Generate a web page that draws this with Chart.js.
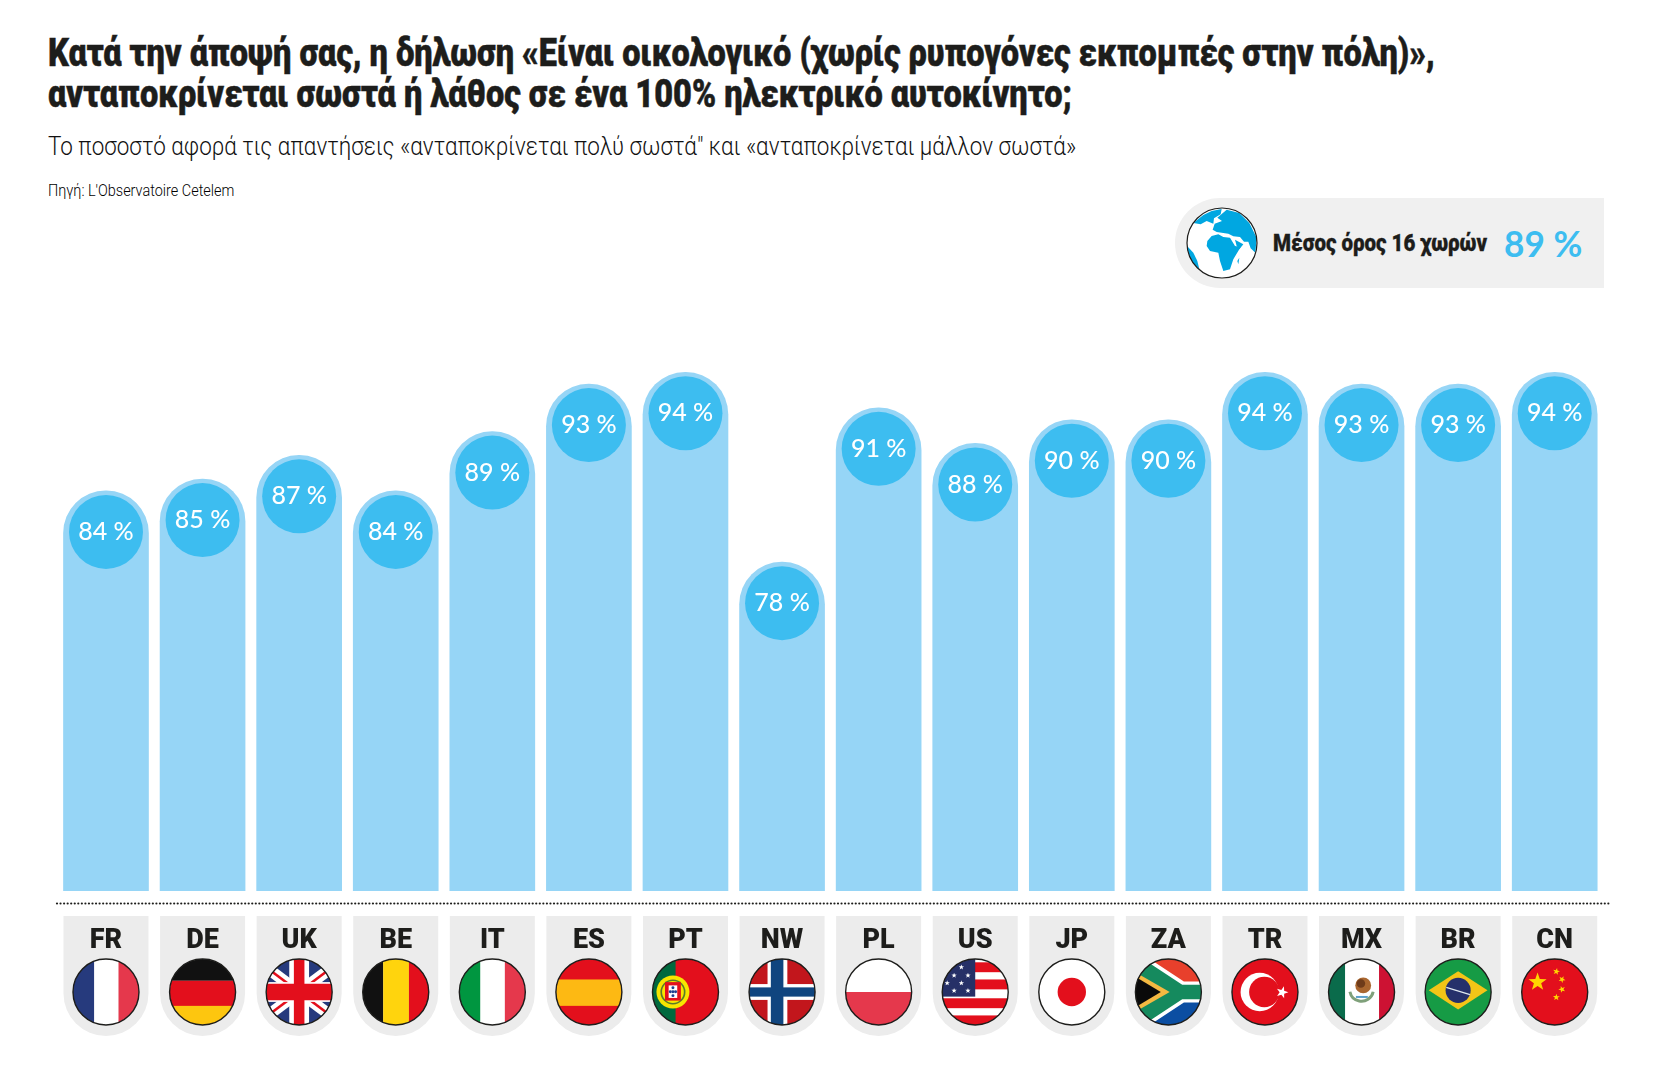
<!DOCTYPE html>
<html lang="el">
<head>
<meta charset="utf-8">
<script src="https://cdn.jsdelivr.net/npm/chart.js@4"></script>
<style>
  html, body { margin: 0; background: #fff; }
  body { position: relative; width: 1654px; height: 1082px; overflow: hidden; color: #1d1d1b; }
  #myChart { position: absolute; left: 0; top: 0; }
  .txt { position: absolute; left: 48px; margin: 0; white-space: nowrap; transform-origin: 0 0; font-family: Roboto, sans-serif; }
  #title { top: 33px; font-size: 38px; line-height: 41px; font-weight: 900; -webkit-text-stroke: .5px #1d1d1b; }
  #subtitle { top: 131px; font-size: 26px; font-weight: 300; color: #111; }
  #source { top: 181px; font-size: 16px; font-weight: 300; color: #000; }
  #avgBox { position: absolute; left: 1175px; top: 198px; width: 429px; height: 90px; background: #f0f0f0; border-radius: 45px 0 0 45px; }
  #avgLabel { position: absolute; left: 98px; top: 30px; font: 900 24px/30px Roboto, sans-serif; -webkit-text-stroke: .3px #1d1d1b; white-space: nowrap; transform-origin: 0 0; }
  #avgValue { position: absolute; left: 329px; top: 22px; font: 700 37px/46px Lato, sans-serif; color: #3dbdf0; white-space: nowrap; transform-origin: 0 0; }
  #globe { position: absolute; left: 10px; top: 8px; }
</style>
</head>
<body>
<h1 class="txt" id="title">Κατά την άποψή σας, η δήλωση «Είναι οικολογικό (χωρίς ρυπογόνες εκπομπές στην πόλη)»,<br>ανταποκρίνεται σωστά ή λάθος σε ένα 100% ηλεκτρικό αυτοκίνητο;</h1>
<p class="txt" id="subtitle">Το ποσοστό αφορά τις απαντήσεις «ανταποκρίνεται πολύ σωστά" και «ανταποκρίνεται μάλλον σωστά»</p>
<p class="txt" id="source">Πηγή: L'Observatoire Cetelem</p>
<canvas id="myChart" width="1654" height="1082"></canvas>
<div id="avgBox">
  <canvas id="globe" width="74" height="74"></canvas>
  <div id="avgLabel">Μέσος όρος 16 χωρών</div>
  <div id="avgValue">89 %</div>
</div>
<script>
let countries = ['FR', 'DE', 'UK', 'BE', 'IT', 'ES', 'PT', 'NW', 'PL', 'US', 'JP', 'ZA', 'TR', 'MX', 'BR', 'CN']
let percents = [84, 85, 87, 84, 89, 93, 94, 78, 91, 88, 90, 90, 94, 93, 93, 94]

let barColor = '#96d5f6'
let bubbleColor = '#3dbdf0'
let pillColor = '#ececec'

// the reference font is condensed, none is installed, so squeeze the text to the same width
function fitWidth(id, target) {
    let el = document.getElementById(id)
    el.style.transform = `scaleX(${target / el.offsetWidth})`
}
fitWidth('title', 1387)
fitWidth('subtitle', 1028)
fitWidth('source', 186)
fitWidth('avgLabel', 214)
fitWidth('avgValue', 78)

// ---- small helpers for the flags ----
function rect(c, col, x, y, w, h) {
    c.fillStyle = col
    c.fillRect(x, y, w, h)
}
function poly(c, col, pts) {
    c.fillStyle = col
    c.beginPath()
    pts.forEach((p, i) => i ? c.lineTo(p[0], p[1]) : c.moveTo(p[0], p[1]))
    c.closePath()
    c.fill()
}
function dot(c, col, x, y, r) {
    c.fillStyle = col
    c.beginPath()
    c.arc(x, y, r, 0, Math.PI * 2)
    c.fill()
}
function star(c, col, x, y, r, rot) {
    let pts = []
    for (let i = 0; i < 10; i++) {
        let a = (rot || 0) - Math.PI / 2 + i * Math.PI / 5
        let rr = i % 2 ? r * 0.4 : r
        pts.push([x + Math.cos(a) * rr, y + Math.sin(a) * rr])
    }
    poly(c, col, pts)
}
function band(c, col, w, x1, y1, x2, y2) {
    c.strokeStyle = col
    c.lineWidth = w
    c.beginPath()
    c.moveTo(x1, y1)
    c.lineTo(x2, y2)
    c.stroke()
}

// every flag is drawn in a -1..1 box, clipped to the circle afterwards
let flags = {
    FR(c) { rect(c, '#263a7d', -1, -1, .66, 2); rect(c, '#fff', -.36, -1, .74, 2); rect(c, '#e5384c', .38, -1, .62, 2) },
    DE(c) { rect(c, '#111', -1, -1, 2, .66); rect(c, '#e30f1c', -1, -.34, 2, .8); rect(c, '#fdc60f', -1, .42, 2, .6) },
    UK(c) {
        rect(c, '#263a7d', -1, -1, 2, 2)
        band(c, '#fff', .34, -1, -.75, 1, .75); band(c, '#fff', .34, -1, .75, 1, -.75)
        band(c, '#e30f1c', .08, -1, -.75, 1, .75); band(c, '#e30f1c', .08, -1, .75, 1, -.75)
        rect(c, '#fff', -.3, -1, .6, 2); rect(c, '#fff', -1, -.3, 2, .6)
        rect(c, '#e30f1c', -.16, -1, .32, 2); rect(c, '#e30f1c', -1, -.25, 2, .5)
    },
    BE(c) { rect(c, '#111', -1, -1, .62, 2); rect(c, '#ffd40d', -.38, -1, .78, 2); rect(c, '#e30f1c', .4, -1, .6, 2) },
    IT(c) { rect(c, '#009640', -1, -1, .64, 2); rect(c, '#fff', -.36, -1, .74, 2); rect(c, '#e5384c', .38, -1, .62, 2) },
    ES(c) { rect(c, '#e30f1c', -1, -1, 2, 2); rect(c, '#fdb913', -1, -.38, 2, .8) },
    PT(c) {
        rect(c, '#e30f1c', -1, -1, 2, 2); rect(c, '#00693e', -1, -1, .7, 2)
        dot(c, '#f7e500', -.38, 0, .5); dot(c, '#5a7a2a', -.38, 0, .38); dot(c, '#f7e500', -.38, 0, .33)
        rect(c, '#e30f1c', -.62, -.3, .48, .56); rect(c, '#fff', -.51, -.2, .26, .38)
        ;[[-.38, -.13], [-.46, -.01], [-.38, -.01], [-.3, -.01], [-.38, .11]].forEach(p => dot(c, '#1d3f8f', p[0], p[1], .045))
    },
    NW(c) {
        rect(c, '#c2161c', -1, -1, 2, 2)
        rect(c, '#fff', -.44, -1, .6, 2); rect(c, '#fff', -1, -.24, 2, .48)
        rect(c, '#10457f', -.34, -1, .38, 2); rect(c, '#10457f', -1, -.14, 2, .28)
    },
    PL(c) { rect(c, '#fff', -1, -1, 2, 1); rect(c, '#e5384c', -1, 0, 2, 1) },
    US(c) {
        rect(c, '#fff', -1, -1, 2, 2)
        for (let i = 0; i < 4; i++) rect(c, '#e30f1c', -1, -.9 + i * .52 + (i > 1 ? .05 : 0), 2, .3)
        rect(c, '#263067', -1, -1, 1, 1.14)
        ;[[-.42, -.75], [-.64, -.5], [-.22, -.5], [-.42, -.27], [-.85, -.27], [-.64, -.04], [-.22, -.04]].forEach(p => star(c, '#fff', p[0], p[1], .085))
    },
    JP(c) { rect(c, '#fff', -1, -1, 2, 2); dot(c, '#e30f1c', 0, 0, .43) },
    ZA(c) {
        rect(c, '#e8402c', -1, -1, 2, 1); rect(c, '#0b4ea2', -1, 0, 2, 1)
        poly(c, '#fff', [[-1, -1.05], [-.64, -1.05], [.47, -.32], [1, -.32], [1, .32], [.47, .32], [-.64, 1.05], [-1, 1.05]])
        poly(c, '#158a5e', [[-1, -1.05], [-.84, -1.05], [.42, -.22], [1, -.22], [1, .22], [.42, .22], [-.84, 1.05], [-1, 1.05]])
        poly(c, '#f4b942', [[-1, -.6], [.04, 0], [-1, .6]])
        poly(c, '#0a0a0a', [[-1, -.46], [-.23, 0], [-1, .46]])
    },
    TR(c) {
        rect(c, '#e30f1c', -1, -1, 2, 2)
        dot(c, '#fff', -.16, 0, .58); dot(c, '#e30f1c', -.02, 0, .46)
        star(c, '#fff', .52, .01, .19, .3)
    },
    MX(c) {
        rect(c, '#fff', -1, -1, 2, 2); rect(c, '#0a6b4b', -1, -1, .5, 2); rect(c, '#cd1233', .53, -1, .47, 2)
        dot(c, '#a9662f', .05, -.2, .24); dot(c, '#6e3b1a', -.02, -.26, .13)
        c.strokeStyle = '#7fa07a'; c.lineWidth = .09
        c.beginPath(); c.arc(0, -.08, .36, .2, Math.PI - .2); c.stroke()
        rect(c, '#5da0c9', -.17, .12, .36, .06)
    },
    BR(c) {
        rect(c, '#169b45', -1, -1, 2, 2)
        poly(c, '#f3c517', [[-.89, -.05], [0, -.63], [.89, -.05], [0, .53]])
        dot(c, '#25306b', 0, -.05, .38)
        band(c, '#dfe8f0', .04, -.36, -.14, .36, .08)
    },
    CN(c) {
        rect(c, '#e30f1c', -1, -1, 2, 2)
        star(c, '#ffd500', -.52, -.3, .29)
        ;[[.05, -.62, .2], [.22, -.38, .5], [.22, -.08, .9], [.05, .16, 1.3]].forEach(p => star(c, '#ffd500', p[0], p[1], .11, p[2]))
    }
}

function drawFlag(c, code, x, y, r) {
    c.save()
    c.translate(x, y)
    c.save()
    c.scale(r, r)
    c.beginPath()
    c.arc(0, 0, 1, 0, Math.PI * 2)
    c.clip()
    flags[code](c)
    c.restore()
    c.beginPath()
    c.arc(0, 0, r, 0, Math.PI * 2)
    c.lineWidth = 1.4
    c.strokeStyle = '#1d1d1b'
    c.stroke()
    c.restore()
}

// grey tabs under the axis, behind the tick labels
let tabsPlugin = {
    id: 'tabs',
    beforeDraw(chart) {
        let c = chart.ctx
        let xs = chart.scales.x
        c.save()
        countries.forEach((code, i) => {
            let x = xs.getPixelForValue(i)
            c.fillStyle = pillColor
            c.beginPath()
            c.roundRect(x - 42.5, chart.chartArea.bottom + 25, 85, 120, [0, 0, 42.5, 42.5])
            c.fill()
        })
        // dotted line between bars and tabs
        c.fillStyle = '#1d1d1b'
        for (let x = 57; x < 1610; x += 3.55) {
            c.beginPath()
            c.arc(x, chart.chartArea.bottom + 12.5, 1.1, 0, Math.PI * 2)
            c.fill()
        }
        c.restore()
    },
    afterDraw(chart) {
        let xs = chart.scales.x
        countries.forEach((code, i) => {
            drawFlag(chart.ctx, code, xs.getPixelForValue(i), chart.chartArea.bottom + 101, 33)
        })
    }
}

// dark circle with the percent inside the rounded head of every bar
let bubblePlugin = {
    id: 'bubbles',
    afterDatasetsDraw(chart) {
        let c = chart.ctx
        chart.getDatasetMeta(0).data.forEach((bar, i) => {
            c.save()
            c.fillStyle = bubbleColor
            c.beginPath()
            c.arc(bar.x, bar.y + 41, 37, 0, Math.PI * 2)
            c.fill()
            c.fillStyle = '#fff'
            c.font = '500 25px Lato, sans-serif'
            c.textAlign = 'center'
            c.textBaseline = 'middle'
            c.fillText(percents[i] + ' %', bar.x, bar.y + 41)
            c.restore()
        })
    }
}

new Chart(document.getElementById('myChart').getContext('2d'), {
    type: 'bar',
    data: {
        labels: countries,
        datasets: [{
            data: percents,
            backgroundColor: barColor,
            barThickness: 85,
            borderRadius: { topLeft: 42.5, topRight: 42.5, bottomLeft: 0, bottomRight: 0 }
        }]
    },
    options: {
        responsive: false,
        animation: false,
        layout: { padding: { left: 57.7, right: 51, top: 301, bottom: 0 } },
        plugins: { legend: { display: false }, tooltip: { enabled: false } },
        scales: {
            y: { display: false, min: 50.3, max: 100 },
            x: {
                afterFit(scale) { scale.height = 191 },
                grid: { display: false, drawTicks: false },
                border: { display: false },
                ticks: {
                    padding: 34,
                    maxRotation: 0,
                    autoSkip: false,
                    color: '#1d1d1b',
                    font: { family: 'Roboto', size: 27, weight: '900' }
                }
            }
        }
    },
    plugins: [tabsPlugin, bubblePlugin]
})

// rough globe for the average box: blue land on white, outlines
let land = [
    [[40, 66], [70, 42], [95, 30], [125, 24], [122, 40], [102, 52], [100, 68], [80, 60], [62, 70]],
    [[112, 50], [140, 26], [178, 36], [208, 66], [230, 110], [226, 155], [212, 142], [205, 122], [192, 122], [180, 108], [160, 106], [145, 98], [110, 93], [98, 86], [104, 68], [126, 60]],
    [[82, 120], [95, 105], [115, 100], [130, 108], [150, 110], [165, 135], [182, 138], [160, 175], [150, 205], [130, 210], [120, 180], [115, 155], [90, 150], [80, 135]],
    [[165, 116], [190, 130], [178, 145], [170, 135]],
    [[172, 180], [178, 170], [175, 190]],
    [[22, 136], [40, 155], [52, 180], [58, 205], [40, 190], [26, 165]]
]
let g = document.getElementById('globe').getContext('2d')
g.save()
g.translate(37, 37)
g.beginPath()
g.arc(0, 0, 35, 0, Math.PI * 2)
g.clip()
g.fillStyle = '#fff'
g.fillRect(-36, -36, 72, 72)
land.forEach(shape => poly(g, '#00a7e1', shape.map(p => [(p[0] - 126) / 3, (p[1] - 126) / 3])))
g.restore()
g.beginPath()
g.arc(37, 37, 35, 0, Math.PI * 2)
g.strokeStyle = '#1d1d1b'
g.lineWidth = 1.2
g.stroke()
</script>
</body>
</html>
